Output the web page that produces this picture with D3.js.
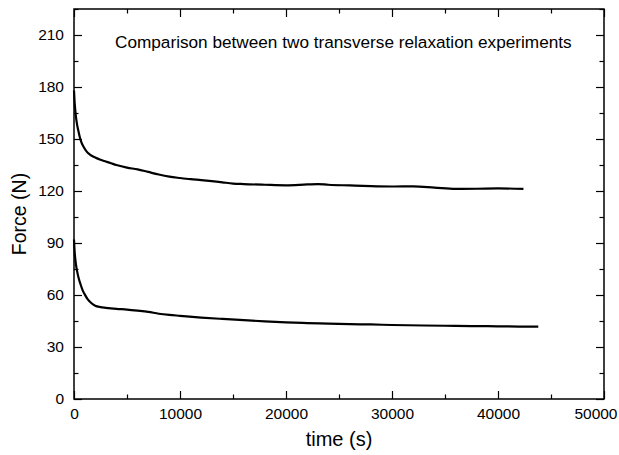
<!DOCTYPE html>
<html><head><meta charset="utf-8">
<script src="https://cdn.jsdelivr.net/npm/d3@7"></script>
<style>body{margin:0;background:#fff}svg{display:block}text{font-family:"Liberation Sans",Arial,sans-serif;fill:#000}</style>
</head><body><svg id="c" width="619" height="455"></svg>
<script>
const titleText = "Comparison between two transverse relaxation experiments";
const xLabel = "time (s)";
const yLabel = "Force (N)";
const xTicks = [0, 10000, 20000, 30000, 40000, 50000];
const yTicks = [0, 30, 60, 90, 120, 150, 180, 210];

const upperT = [0,50,100,200,300,400,550,700,900,1200,1500,2000,2500,3000,3500,4000,5000,6000,7000,8000,9000,10000,11000,12000,13000,14000,15000,16000,18000,20000,22000,23000,24000,26000,28000,30000,32000,34000,36000,38000,40000,42400];
const upperF = [178,172,168,162,158,155,151,148,145.5,142.7,141,139.3,138,137,136,135,133.5,132.5,131,129.5,128.3,127.5,126.8,126.3,125.7,125,124.3,124,123.6,123.3,123.8,124,123.6,123.2,122.8,122.6,122.7,122,121.2,121.3,121.5,121.2];
const lowerT = [0,50,100,200,300,450,600,800,1000,1300,1600,2000,2500,3000,4000,5000,6000,7000,8000,9000,10000,12000,14000,16000,18000,20000,22000,24000,26000,28000,30000,33000,36000,39000,42000,43800];
const lowerF = [92,86,82,77,73.5,69.5,66.5,63,60.5,57.5,55.5,53.8,53,52.6,52,51.6,51,50.3,49.2,48.5,48,47,46.2,45.5,44.8,44.2,43.8,43.5,43.2,43,42.7,42.4,42.2,42,41.8,41.7];

const L = 74, R = 604, T = 9, B = 399;
const svg = d3.select("#c");
const x = d3.scaleLinear().domain([0, 50000]).range([L, R]);
const y = d3.scaleLinear().domain([0, 225]).range([B, T]);

const xMinor = d3.range(0, 50001, 5000);
const yMinor = d3.range(0, 226, 15);

function styleAxis(g) {
  g.select(".domain").remove();
  g.selectAll(".tick line").attr("stroke", "#000").attr("stroke-width", 1.2);
}
// major ticks with labels
svg.append("g").attr("transform", `translate(0,${B})`)
  .call(d3.axisBottom(x).tickValues(xTicks).tickSize(-8).tickPadding(9).tickFormat(d3.format("d")))
  .call(styleAxis).call(g => g.selectAll("text").attr("font-size", 15.5).attr("fill", "#000")
    .filter(d => d === 50000).attr("text-anchor", "end").attr("x", 13));
svg.append("g").attr("transform", `translate(${L},0)`)
  .call(d3.axisLeft(y).tickValues(yTicks).tickSize(-8).tickPadding(10).tickFormat(d3.format("d")))
  .call(styleAxis).call(g => g.selectAll("text").attr("font-size", 15.5).attr("fill", "#000"));
svg.append("g").attr("transform", `translate(0,${T})`)
  .call(d3.axisTop(x).tickValues(xTicks).tickSize(-8).tickFormat(""))
  .call(styleAxis);
svg.append("g").attr("transform", `translate(${R},0)`)
  .call(d3.axisRight(y).tickValues(yTicks).tickSize(-8).tickFormat(""))
  .call(styleAxis);
// minor ticks
const minX = xMinor.filter(v => !xTicks.includes(v));
const minY = yMinor.filter(v => !yTicks.includes(v));
[[d3.axisBottom(x), B], [d3.axisTop(x), T]].forEach(([ax, p]) => {
  svg.append("g").attr("transform", `translate(0,${p})`)
    .call(ax.tickValues(minX).tickSize(-4.5).tickFormat("")).call(styleAxis);
});
[[d3.axisLeft(y), L], [d3.axisRight(y), R]].forEach(([ax, p]) => {
  svg.append("g").attr("transform", `translate(${p},0)`)
    .call(ax.tickValues(minY).tickSize(-4.5).tickFormat("")).call(styleAxis);
});
// frame
svg.append("rect").attr("x", L).attr("y", T).attr("width", R - L).attr("height", B - T)
  .attr("fill", "none").attr("stroke", "#000").attr("stroke-width", 1.5);

const line = d3.line().x(d => x(d[0])).y(d => y(d[1])).curve(d3.curveMonotoneX);
[[upperT, upperF], [lowerT, lowerF]].forEach(([t, f]) => {
  svg.append("path").datum(t.map((v, i) => [v, f[i]]))
    .attr("d", line).attr("fill", "none").attr("stroke", "#000").attr("stroke-width", 2.2);
});

svg.append("text").attr("x", 115).attr("y", 48).attr("font-size", 17.2).text(titleText);
svg.append("text").attr("x", (L + R) / 2).attr("y", 446).attr("text-anchor", "middle").attr("font-size", 20).text(xLabel);
svg.append("text").attr("transform", `translate(26,214) rotate(-90)`).attr("text-anchor", "middle").attr("font-size", 19.5).text(yLabel);
</script></body></html>
